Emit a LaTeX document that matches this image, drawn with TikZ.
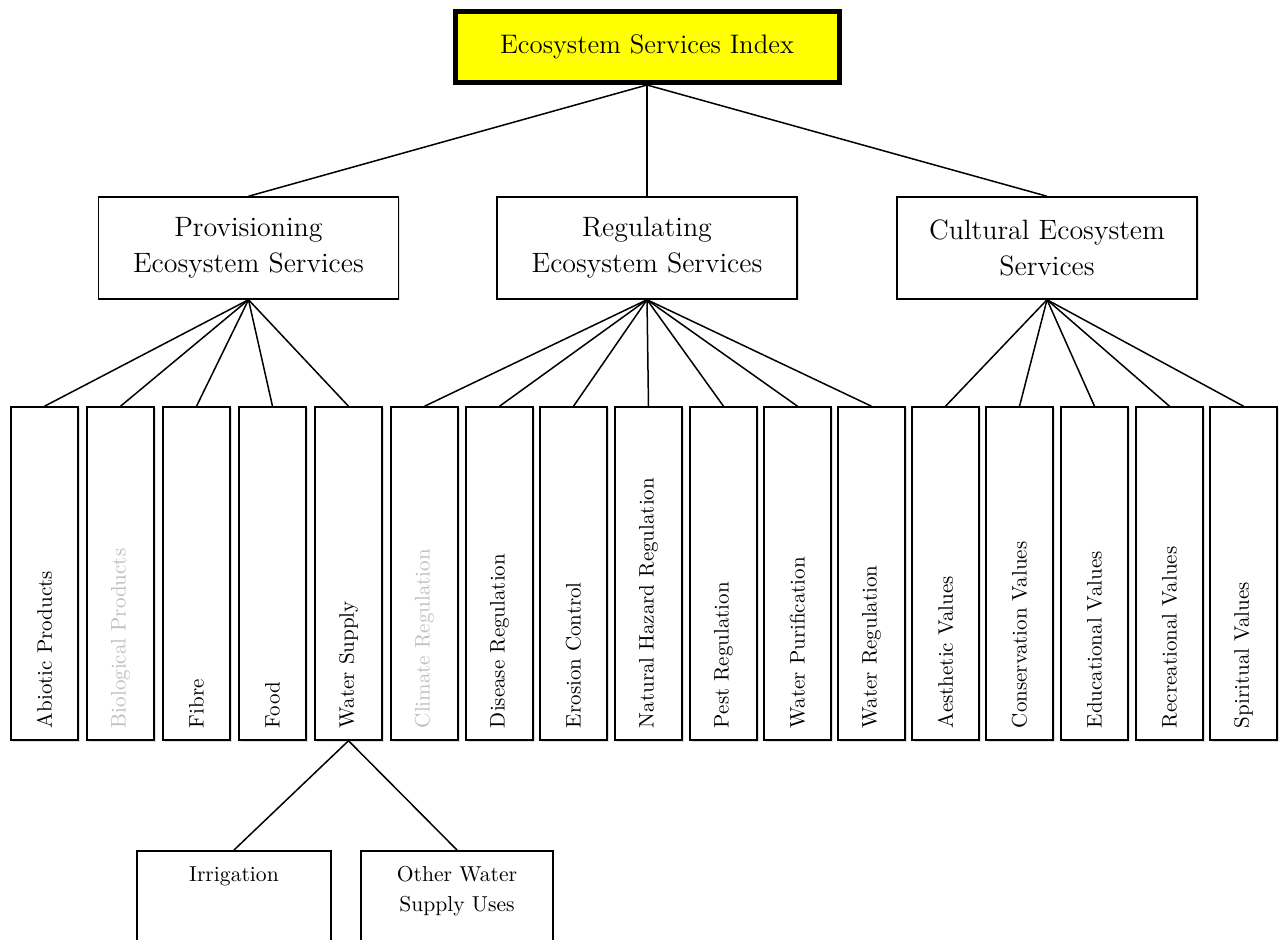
\documentclass[tikz,border=0pt]{standalone}
\usepackage{xcolor}
\usepackage{tikz}
\usetikzlibrary{shadows}
\usetikzlibrary{positioning}
\definecolor{indexyellow}{RGB}{255,255,0}
\tikzstyle{index}=[draw,line width=2.5pt,fill=indexyellow,minimum width=192pt,minimum height=35.5pt,
  drop shadow={shadow xshift=1pt,shadow yshift=-1pt,fill=black!25},font=\fontsize{13.4}{16}\selectfont]
\tikzstyle{pillar}=[draw,line width=0.75pt,fill=white,minimum width=150pt,minimum height=51pt,align=center,
  drop shadow={shadow xshift=0.75pt,shadow yshift=-0.75pt,fill=black!25},font=\fontsize{14}{18}\selectfont]
\tikzstyle{service}=[draw,line width=0.75pt,fill=white,rotate=90,minimum height=33.5pt,text width=154.5pt,
  inner xsep=6pt,align=left,drop shadow={shadow xshift=0.75pt,shadow yshift=-0.75pt,fill=black!25},
  font=\fontsize{10.5}{12}\selectfont]
\tikzstyle{subservice}=[draw,line width=0.75pt,fill=white,anchor=north,inner xsep=0pt,inner ysep=8pt,
  font=\fontsize{10.8}{15}\selectfont]
\tikzstyle{faded}=[text=black!25]
\tikzstyle{link}=[draw,line width=0.75pt,black]

\begin{document}
\begin{tikzpicture}[x=0.5pt,y=-0.5pt]
\clip (0,0) rectangle (1279,940);

	\node[index] (esi) at (647,47) {Ecosystem Services Index};

% % % Level 2
	\node[pillar] (prov) at (248.5,248) {Provisioning\\Ecosystem Services};
	\node[pillar] (regu) at (647,248) {Regulating\\Ecosystem Services};
	\node[pillar] (cult) at (1047,248) {Cultural Ecosystem\\Services};

% % % Level 3
	\node[service] (abio) at (44.5,573.5) {Abiotic Products};
	\node[service,faded] (biol) at (120.5,573.5) {Biological Products};
	\node[service] (fibr) at (196.5,573.5) {Fibre};
	\node[service] (food) at (272.5,573.5) {Food};
	\node[service] (wsup) at (348.5,573.5) {Water Supply};

	\node[service,faded] (clim) at (424.5,573.5) {Climate Regulation};
	\node[service] (dise) at (499.5,573.5) {Disease Regulation};
	\node[service] (eros) at (573.5,573.5) {Erosion Control};
	\node[service] (nhaz) at (648.5,573.5) {Natural Hazard Regulation};
	\node[service] (pest) at (723.5,573.5) {Pest Regulation};
	\node[service] (wpur) at (797.5,573.5) {Water Purification};
	\node[service] (wreg) at (871.5,573.5) {Water Regulation};

	\node[service] (aest) at (945.5,573.5) {Aesthetic Values};
	\node[service] (cons) at (1019.5,573.5) {Conservation Values};
	\node[service] (educ) at (1094.5,573.5) {Educational Values};
	\node[service] (recr) at (1169.5,573.5) {Recreational Values};
	\node[service] (spir) at (1243.5,573.5) {Spiritual Values};

% % % Level 4
	\node[subservice] (irri) at (234,850)
	{\parbox[t][60pt][t]{97pt}{\centering Irrigation}};
	\node[subservice] (owsu) at (457,850)
	{\parbox[t][60pt][t]{96pt}{\centering Other Water\\Supply Uses}};

% % % Links
	\path[link] (esi.south) -- (prov.north);
	\path[link] (esi.south) -- (regu.north);
	\path[link] (esi.south) -- (cult.north);

	\path[link] (prov.south) -- (abio.east);
	\path[link] (prov.south) -- (biol.east);
	\path[link] (prov.south) -- (fibr.east);
	\path[link] (prov.south) -- (food.east);
	\path[link] (prov.south) -- (wsup.east);

	\path[link] (regu.south) -- (clim.east);
	\path[link] (regu.south) -- (dise.east);
	\path[link] (regu.south) -- (eros.east);
	\path[link] (regu.south) -- (nhaz.east);
	\path[link] (regu.south) -- (pest.east);
	\path[link] (regu.south) -- (wpur.east);
	\path[link] (regu.south) -- (wreg.east);

	\path[link] (cult.south) -- (aest.east);
	\path[link] (cult.south) -- (cons.east);
	\path[link] (cult.south) -- (educ.east);
	\path[link] (cult.south) -- (recr.east);
	\path[link] (cult.south) -- (spir.east);

	\path[link] (wsup.west) -- (irri.north);
	\path[link] (wsup.west) -- (owsu.north);

\end{tikzpicture}
\end{document}
